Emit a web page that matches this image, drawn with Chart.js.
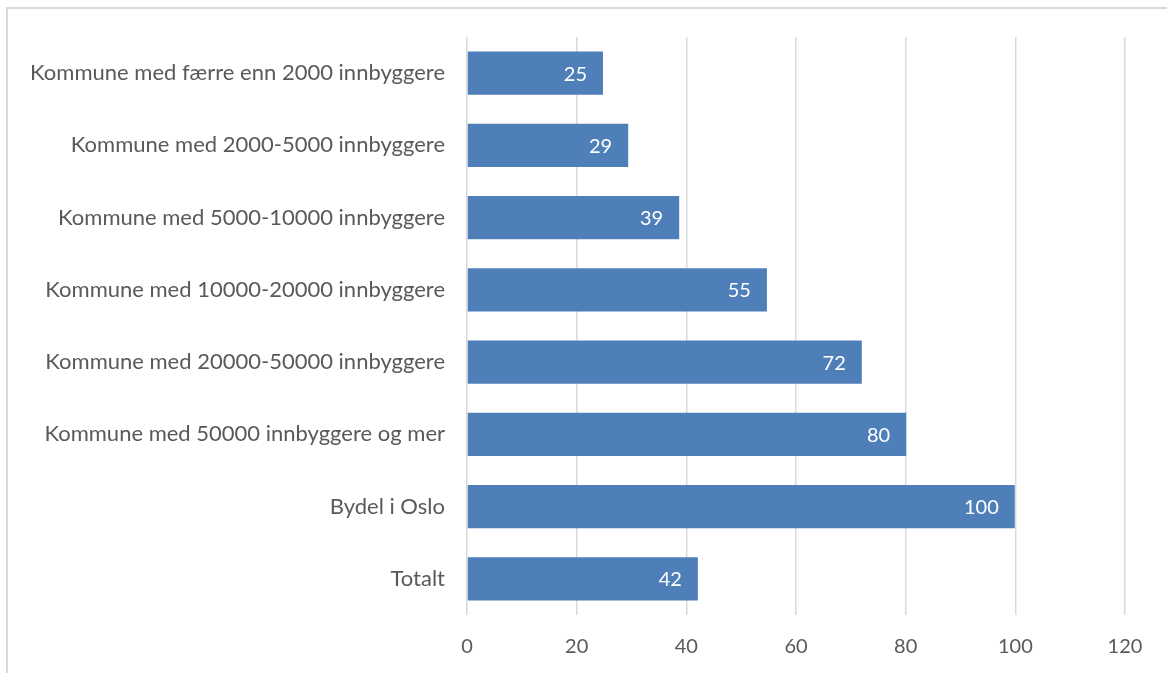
<!DOCTYPE html>
<html>
<head>
<meta charset="utf-8">
<script src="https://cdn.jsdelivr.net/npm/chart.js@4"></script>
<style>
    html, body { margin: 0; padding: 0; background: #fff; overflow: hidden; }
    #frame {
        position: absolute; left: 6px; top: 7px; width: 1200px; height: 700px;
        border-top: 2px solid #d9d9d9; border-left: 2px solid #d9d9d9;
    }
    #chart { position: absolute; left: 0; top: 0; }
</style>
</head>
<body>
<div id="frame"></div>
<canvas id="chart" width="1167" height="673"></canvas>
<script>
const categories = [
    "Kommune med færre enn 2000 innbyggere",
    "Kommune med 2000-5000 innbyggere",
    "Kommune med 5000-10000 innbyggere",
    "Kommune med 10000-20000 innbyggere",
    "Kommune med 20000-50000 innbyggere",
    "Kommune med 50000 innbyggere og mer",
    "Bydel i Oslo",
    "Totalt",
];
const values = [24.8, 29.4, 38.7, 54.7, 72.0, 80.1, 99.9, 42.1];
const xTicks = [0, 20, 40, 60, 80, 100, 120];

const textFont = "Lato, 'Open Sans', sans-serif";

// labels inside bar ends, white
const barLabels = {
    id: "barLabels",
    afterDatasetsDraw(chart) {
        const ctx = chart.ctx;
        const meta = chart.getDatasetMeta(0);
        ctx.save();
        ctx.fillStyle = "#ffffff";
        ctx.font = "20px " + textFont;
        ctx.textAlign = "right";
        ctx.textBaseline = "middle";
        meta.data.forEach((bar, i) => {
            ctx.fillText(Math.round(values[i]).toString(), bar.x - 16, bar.y + 1);
        });
        ctx.restore();
    },
};

const ctx = document.getElementById("chart").getContext("2d");

const chart = new Chart(ctx, {
    type: "bar",
    data: {
        labels: categories,
        datasets: [
            {
                data: values,
                backgroundColor: "#4F7FB8",
                categoryPercentage: 1,
                barPercentage: 0.6,
            },
        ],
    },
    options: {
        indexAxis: "y",
        responsive: false,
        animation: false,
        layout: { padding: { top: 37, right: 42, left: 0, bottom: 0 } },
        plugins: {
            legend: { display: false },
            tooltip: { enabled: false },
        },
        scales: {
            x: {
                min: 0,
                max: 120,
                afterBuildTicks: (scale) => {
                    scale.ticks = xTicks.map((v) => ({ value: v }));
                },
                afterFit: (scale) => {
                    scale.height = 58;
                },
                grid: {
                    color: "#d9d9d9",
                    lineWidth: 1.5,
                    drawTicks: false,
                },
                border: { display: false },
                ticks: {
                    color: "#595959",
                    font: { family: textFont, size: 20 },
                    padding: 20,
                },
            },
            y: {
                afterFit: (scale) => {
                    scale.width = 467;
                },
                grid: { display: false, drawTicks: false },
                border: { display: false },
                ticks: {
                    color: "#595959",
                    font: { family: textFont, size: 22 },
                    padding: 22,
                },
            },
        },
    },
    plugins: [barLabels],
});
</script>
</body>
</html>
